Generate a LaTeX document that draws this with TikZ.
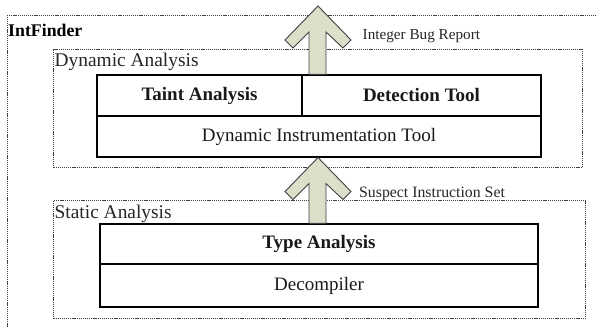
\documentclass[tikz,border=0pt]{standalone}
\usepackage{fontspec}
\setmainfont{Liberation Serif}
\usetikzlibrary{calc}
\definecolor{arrowfill}{HTML}{DCDFCA}
\tikzset{
  dotbox/.style={draw=black!75, line width=0.9pt, dash pattern=on 1.2pt off 0.9pt},
  cell/.style={draw=black, line width=1.1pt, inner sep=0pt, font=\fontsize{19}{22}\selectfont, text=black!90},
  boldcell/.style={cell, font=\fontsize{19}{22}\selectfont\bfseries},
  lbl/.style={inner sep=0pt, font=\fontsize{19.4}{22}\selectfont, text=black!85},
  small/.style={inner sep=0pt, font=\fontsize{15.2}{18}\selectfont, text=black!85},
  fatarrow/.style={draw=black!75, line width=0.9pt, fill=arrowfill, line join=miter}
}
\newcommand\fatarrow[2]{%
  \draw[fatarrow] let \p1=(#1), \p2=(#2) in
    (\x2,\y2) -- ++(-33pt,-34pt) -- ++(8pt,-8pt) -- (\x2-9pt,\y2-26pt)
    -- (\x2-9pt,\y1) -- (\x2+8pt,\y1) -- (\x2+8pt,\y2-26pt)
    -- (\x2+25pt,\y2-42pt) -- (\x2+33pt,\y2-34pt) -- cycle;}
\begin{document}
\begin{tikzpicture}[x=1pt,y=-1pt]
\useasboundingbox (0,0) rectangle (597,328);
\clip (0,0) rectangle (597,328);
% outer box (extends beyond the picture)
\node[dotbox, minimum width=620pt, minimum height=340pt, anchor=north west, inner sep=0pt] (outer) at (7,15) {};
\node[inner sep=0pt, anchor=base west, font=\fontsize{17.8}{21}\selectfont\bfseries, text=black] (title) at (8,36.5) {IntFinder};
% dynamic analysis
\node[dotbox, minimum width=529pt, minimum height=118pt, anchor=north west, inner sep=0pt] (dyn) at (53,49) {};
\node[lbl, anchor=base west] (dynlbl) at (54.5,66.5) {Dynamic Analysis};
\node[boldcell, minimum width=205pt, minimum height=41pt] (taint) at (199.5,95.5) {Taint Analysis};
\node[boldcell, minimum width=239pt, minimum height=41pt] (detect) at (421.5,95.5) {Detection Tool};
\node[cell, minimum width=444pt, minimum height=41pt] (dit) at (319,136.5) {Dynamic Instrumentation Tool};
% static analysis
\node[dotbox, minimum width=532pt, minimum height=118pt, anchor=north west, inner sep=0pt] (stat) at (53,200) {};
\node[lbl, anchor=base west] (statlbl) at (54.5,219) {Static Analysis};
\node[boldcell, minimum width=438pt, minimum height=40pt] (type) at (319,244) {Type Analysis};
\node[cell, minimum width=438pt, minimum height=43pt] (decomp) at (319,285.5) {Decompiler};
% arrows
\coordinate (tip1) at (318,6);
\coordinate (base1) at (tip1 |- detect.north);
\fatarrow{base1}{tip1}
\node[small, anchor=base west] (bug) at (362.5,40) {Integer Bug Report};
\coordinate (tip2) at (tip1 |- dit.south);
\coordinate (base2) at (tip1 |- type.north);
\fatarrow{base2}{tip2}
\node[small, anchor=base west, font=\fontsize{15.8}{18}\selectfont] (sis) at (359,198) {Suspect Instruction Set};
\end{tikzpicture}
\end{document}
